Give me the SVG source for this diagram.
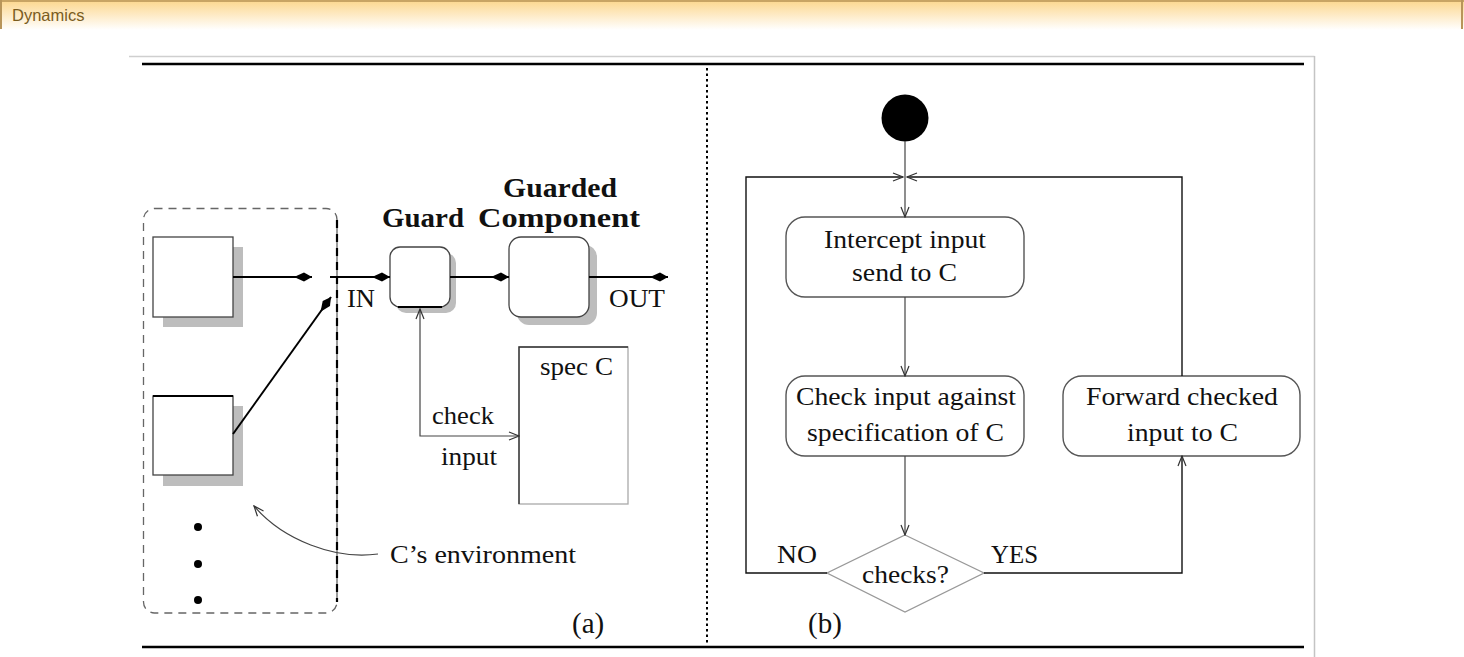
<svg xmlns="http://www.w3.org/2000/svg" width="1464" height="657" viewBox="0 0 1464 657">
<style>
.t{font-family:"Liberation Serif","Times New Roman",serif;fill:#111}
.tb{font-family:"Liberation Serif","Times New Roman",serif;font-weight:bold;fill:#111}
.shadow{fill:#bdbdbd}
.box{fill:#fff;stroke:#444;stroke-width:1.3}
.act{fill:#fff;stroke:#555;stroke-width:1.4}
.conn{fill:none;stroke:#000;stroke-width:2}
.thin{fill:none;stroke:#444;stroke-width:1.2}
.loop{fill:none;stroke:#111;stroke-width:1.4}
</style>
<defs>
<linearGradient id="hdr" x1="0" y1="0" x2="0" y2="1">
<stop offset="0" stop-color="#fcd68c"/>
<stop offset="1" stop-color="#ffffff"/>
</linearGradient>
<marker id="dart" viewBox="-20 -6 21 12" refX="0" refY="0" markerWidth="21" markerHeight="12" orient="auto" markerUnits="userSpaceOnUse">
<path d="M0,0 L-8,-4.5 L-18,0 L-8,4.5 z" fill="#000"/>
</marker>
<marker id="vee" viewBox="-12 -6 13 12" refX="0" refY="0" markerWidth="13" markerHeight="12" orient="auto-start-reverse" markerUnits="userSpaceOnUse">
<path d="M-10,-4 L0,0 L-10,4" fill="none" stroke="#333" stroke-width="1.2"/>
</marker>
</defs>

<!-- header bar -->
<g id="header">
<rect x="0" y="0" width="1464" height="30" fill="url(#hdr)"/>
<line x1="0" y1="1" x2="1464" y2="1" stroke="#c8a464" stroke-width="2"/>
<line x1="1" y1="0" x2="1" y2="29" stroke="#b8955a" stroke-width="2"/>
<line x1="1462" y1="0" x2="1462" y2="29" stroke="#b8955a" stroke-width="2"/>
<text x="12" y="21" font-family="Liberation Sans, Arial, sans-serif" font-size="16.5" fill="#7a5c1e">Dynamics</text>
</g>

<!-- image frame -->
<g id="frame">
<line x1="129" y1="56.5" x2="1314.5" y2="56.5" stroke="#cfcfcf" stroke-width="1.5"/>
<line x1="1314.5" y1="56" x2="1314.5" y2="657" stroke="#c4c4c4" stroke-width="1.5"/>
<line x1="142" y1="64" x2="1304" y2="64" stroke="#000" stroke-width="2.7"/>
<line x1="142" y1="647" x2="1304" y2="647" stroke="#000" stroke-width="2.7"/>
<line x1="707" y1="68" x2="707" y2="645" stroke="#000" stroke-width="2" stroke-dasharray="2.5 3"/>
</g>

<!-- (a) -->
<g id="environment">
<rect x="143.5" y="208.5" width="193.5" height="404.5" rx="11" fill="none" stroke="#666" stroke-width="1.3" stroke-dasharray="8 6"/>
<line x1="337" y1="220" x2="337" y2="602" stroke="#000" stroke-width="2.2" stroke-dasharray="8 6"/>
<circle cx="198" cy="527" r="4" fill="#000"/>
<circle cx="198" cy="564" r="4" fill="#000"/>
<circle cx="198" cy="600" r="4" fill="#000"/>
</g>
<g id="box1">
<rect class="shadow" x="163" y="247" width="80" height="80"/>
<rect class="box" x="153" y="237" width="80" height="80"/>
</g>
<g id="box2">
<rect class="shadow" x="163" y="406" width="80" height="80"/>
<rect class="box" x="153" y="396" width="80" height="79"/>
<line x1="153" y1="396" x2="233" y2="396" stroke="#000" stroke-width="2"/>
</g>
<g id="guard">
<rect class="shadow" x="396" y="253" width="60" height="60" rx="10"/>
<rect class="box" x="390" y="247" width="60" height="60" rx="10"/>
<line x1="398" y1="307" x2="442" y2="307" stroke="#000" stroke-width="2"/>
<text class="tb" x="382" y="227" font-size="28" textLength="82" lengthAdjust="spacingAndGlyphs">Guard</text>
</g>
<g id="component">
<rect class="shadow" x="517" y="245" width="80" height="80" rx="12"/>
<rect class="box" x="509" y="237" width="80" height="80" rx="12"/>
<text class="tb" x="503" y="197" font-size="28" textLength="114" lengthAdjust="spacingAndGlyphs">Guarded</text>
<text class="tb" x="478" y="227" font-size="28" textLength="162" lengthAdjust="spacingAndGlyphs">Component</text>
</g>
<g id="specC">
<rect x="519" y="347" width="109" height="157" fill="#fff" stroke="#aaa" stroke-width="1.3"/>
<path d="M519,504 L519,347 L628,347" fill="none" stroke="#333" stroke-width="1.4"/>
<text class="t" x="540" y="375" font-size="26" textLength="73" lengthAdjust="spacingAndGlyphs">spec C</text>
</g>
<g id="labels-a">
<text class="t" x="347" y="307" font-size="26" textLength="28" lengthAdjust="spacingAndGlyphs">IN</text>
<text class="t" x="609" y="307" font-size="26" textLength="56" lengthAdjust="spacingAndGlyphs">OUT</text>
<text class="t" x="432" y="424" font-size="26" textLength="62" lengthAdjust="spacingAndGlyphs">check</text>
<text class="t" x="441" y="465" font-size="26" textLength="56" lengthAdjust="spacingAndGlyphs">input</text>
<text class="t" x="390" y="563" font-size="26" textLength="186" lengthAdjust="spacingAndGlyphs">C’s environment</text>
<text class="t" x="572" y="633" font-size="29">(a)</text>
</g>

<!-- (b) -->
<g id="start">
<circle cx="905" cy="118" r="23.5" fill="#000"/>
</g>
<g id="intercept">
<rect class="act" x="786" y="217" width="238" height="80" rx="19"/>
<text class="t" x="824" y="248" font-size="25" textLength="162" lengthAdjust="spacingAndGlyphs">Intercept input</text>
<text class="t" x="852" y="281" font-size="25" textLength="105" lengthAdjust="spacingAndGlyphs">send to C</text>
</g>
<g id="check">
<rect class="act" x="786" y="376" width="238" height="80" rx="19"/>
<text class="t" x="796" y="405" font-size="25" textLength="220" lengthAdjust="spacingAndGlyphs">Check input against</text>
<text class="t" x="807" y="441" font-size="25" textLength="197" lengthAdjust="spacingAndGlyphs">specification of C</text>
</g>
<g id="decision">
<polygon points="905,535 984,573 905,612 827,573" fill="#fff" stroke="#999" stroke-width="1.3"/>
<text class="t" x="862" y="583" font-size="25" textLength="87" lengthAdjust="spacingAndGlyphs">checks?</text>
</g>
<g id="forward">
<rect class="act" x="1063" y="376" width="237" height="80" rx="19"/>
<text class="t" x="1086" y="405" font-size="25" textLength="192" lengthAdjust="spacingAndGlyphs">Forward checked</text>
<text class="t" x="1127" y="441" font-size="25" textLength="111" lengthAdjust="spacingAndGlyphs">input to C</text>
</g>
<g id="labels-b">
<text class="t" x="777" y="563" font-size="26" textLength="40" lengthAdjust="spacingAndGlyphs">NO</text>
<text class="t" x="991" y="563" font-size="26" textLength="47" lengthAdjust="spacingAndGlyphs">YES</text>
<text class="t" x="808" y="633" font-size="29">(b)</text>
</g>

<g id="connectors">
<!-- (a) -->
<line class="conn" x1="233" y1="277" x2="312" y2="277" marker-end="url(#dart)"/>
<line class="conn" x1="330" y1="277" x2="390" y2="277" marker-end="url(#dart)"/>
<line class="conn" x1="233" y1="434" x2="331" y2="297" stroke="#222" stroke-width="1.3" marker-end="url(#dart)"/>
<line class="conn" x1="450" y1="277" x2="509" y2="277" marker-end="url(#dart)"/>
<line class="conn" x1="589" y1="277" x2="668" y2="277" stroke="#444" marker-end="url(#dart)"/>
<path class="thin" d="M420,309 L420,436 L519,436" stroke="#222" marker-start="url(#vee)" marker-end="url(#vee)"/>
<path class="thin" d="M378,554 C335,560 283,540 254,506" marker-end="url(#vee)"/>
<!-- (b) -->
<line class="thin" x1="905" y1="141" x2="905" y2="217" marker-end="url(#vee)"/>
<line class="thin" x1="905" y1="297" x2="905" y2="376" marker-end="url(#vee)"/>
<line class="thin" x1="905" y1="456" x2="905" y2="535" marker-end="url(#vee)"/>
<path class="loop" d="M827,573 L746,573 L746,177 L903,177" marker-end="url(#vee)"/>
<path class="loop" d="M984,573 L1182,573 L1182,456" marker-end="url(#vee)"/>
<path class="loop" d="M1182,376 L1182,177 L907,177" marker-end="url(#vee)"/>
</g>
</svg>
